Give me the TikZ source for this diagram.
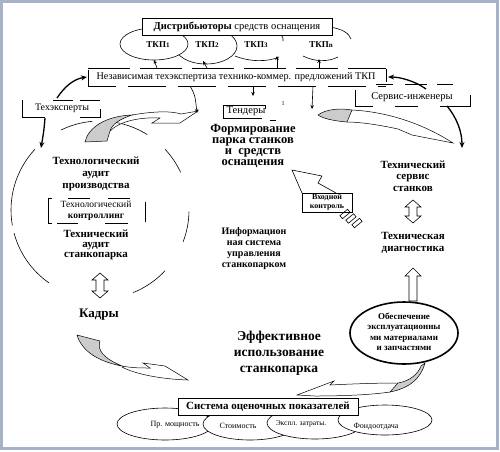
\documentclass[tikz,border=0pt]{standalone}
\usepackage{fontspec}
\setmainfont{Liberation Serif}
\usetikzlibrary{arrows.meta}
\newcommand\fz[2]{\fontsize{#1}{#2}\selectfont}
\newcommand\vdarr[3]{\draw[hollow] (#1-8,#2+7) -- (#1,#2) -- (#1+8,#2+7) -- (#1+4,#2+7) -- (#1+4,#3-7) -- (#1+8,#3-7) -- (#1,#3) -- (#1-8,#3-7) -- (#1-4,#3-7) -- (#1-4,#2+7) -- cycle;}
\newcommand\carc[2]{\draw[ln] (cc) ++(-#1:89) arc[start angle=-#1, end angle=-#2, radius=89];}
\begin{document}
\begin{tikzpicture}[x=1pt,y=-1pt,
  lbl/.style={inner sep=0pt, align=center},
  thickarr/.style={line width=1.3pt, -{Stealth[length=6pt,width=5pt]}},
  thinarr/.style={line width=0.6pt, -{Stealth[length=4pt,width=3.5pt]}},
  ln/.style={line width=0.6pt},
  gblade/.style={draw, line width=0.5pt, fill=gray!40},
  wbody/.style={draw, line width=0.5pt, fill=white},
  hollow/.style={draw, line width=0.6pt, fill=white}]
\useasboundingbox (0,0) rectangle (500,451);
\draw[color={rgb,255:red,165;green,178;blue,200}, line width=2.5pt] (1.5,1.5) rectangle (497.5,448.5);

% ---- top: TKP ellipses and distributors
\draw[ln, fill=white] (206,46) ellipse [x radius=31, y radius=18];
\draw[ln, fill=white] (154,44) ellipse [x radius=34, y radius=16];
\draw[ln] (235,56) .. controls (250,62) and (268,62) .. (279,57);
\draw[ln] (330,27) .. controls (342,29) and (349,33) .. (351,39);
\draw[ln] (303,56) .. controls (315,62) and (328,62) .. (338,57);
\node[lbl, draw, fill=white, minimum width=190pt, minimum height=17pt, line width=0.7pt, font=\fz{10.5}{12}] (dist) at (237,26.5) {\textbf{Дистрибьюторы} средств оснащения};
\draw[ln] (281,35) .. controls (283,37) .. (283,41);
\node[lbl, font=\fz{9}{10}\bfseries] (t1) at (158,45) {ТКП{\fz{7}{7}1}};
\node[lbl, font=\fz{9}{10}\bfseries] (t2) at (207,45) {ТКП{\fz{7}{7}2}};
\node[lbl, font=\fz{9}{10}\bfseries] (t3) at (256,45) {ТКП{\fz{7}{7}3}};
\node[lbl, font=\fz{9}{10}\bfseries] (tn) at (321,45) {ТКП{\fz{7}{7}n}};

% ---- independent expertise
\node[lbl, font=\fz{10.2}{12}] (ind) at (236,77) {Независимая техэкспертиза технико-коммер. предложений ТКП};
\draw[ln, dash pattern=on 42pt off 10pt] (88,68.5) -- (386,68.5);
\draw[ln, dash pattern=on 38pt off 12pt, dash phase=10pt] (88,86) -- (386,86);
\draw[ln] (88,70) -- (88,86);
\draw[ln] (386,68.5) -- (386,82);
\coordinate (u1) at (157,68); \coordinate (u2) at (207,68); \coordinate (u3) at (277,68); \coordinate (u4) at (319,68);
\draw[thinarr] (u1) -- (154,60);
\draw[thinarr] (u2) -- (203,61);
\draw[thinarr] (u3) -- (277,56);
\draw[thinarr] (u4) -- (319,59);

% ---- experts / service engineers
\node[lbl, font=\fz{10}{12}] (tech) at (62,108.5) {Техэксперты};
\draw[ln] (22,100) -- (22,117) -- (45,117);
\draw[ln] (53,100) -- (73,100);
\draw[ln] (80,100) -- (100,100);
\draw[ln] (100,109) -- (100,117) -- (80,117);
\node[lbl, font=\fz{10.5}{12}] (serv) at (412,97.5) {Сервис-инженеры};
\draw[ln] (355,90) -- (355,106) -- (373,106);
\draw[ln] (395,106) -- (418,106);
\draw[ln] (440,106) -- (470,106) -- (470,95);
\draw[ln] (376,84) -- (393,84);
\draw[ln] (405,84) -- (427,84);
\draw[ln] (437,84) -- (453,84);
\coordinate (indL) at (87,77); \coordinate (indR) at (388,77);
\draw[thickarr] (57,98) .. controls (65,86) and (74,79) .. (indL);
\draw[thickarr] (426,89) .. controls (415,81) and (400,77) .. (indR);
\draw[thickarr] (447,106) .. controls (457,118) and (462,132) .. (462,148);
\draw[thickarr] (45,118) .. controls (44,130) .. (41,148);
\draw[thinarr] (190,86) .. controls (195,95) .. (197,113);
\draw[thinarr] (253,86) -- (253,96);
\draw[thinarr] (313,86) -- (312,109);

% ---- tenders / formation
\node[lbl, font=\fz{10.5}{12}] (tend) at (246,111.5) {Тендеры};
\draw[ln] (265,109) -- (265,105) -- (223,105) -- (223,118) -- (262,118);
\draw[ln] (270,120) -- (276,120);
\node[lbl, font=\fz{6}{6}] (sup1) at (283,104) {1};
\node[lbl, font=\fz{12.5}{11.3}\bfseries] (form) at (253,146) {Формирование\\парка станков\\и~~средств\\оснащения};

% ---- left dashed circle
\coordinate (cc) at (100,210);
\carc{95}{116}
\carc{58}{79}
\carc{25}{43}
\carc{-1}{-21}
\carc{-43}{-68}
\carc{-125}{-165}
\carc{137}{190}

% gray arrow A
\draw[wbody] (132,115) .. controls (155,111) and (172,111) .. (181,114) -- (198,111) -- (180,123) -- (152,123) -- (160,118) .. controls (140,117) and (120,121) .. (110,131);
\draw[gblade] (85,142) .. controls (88,128) and (105,116) .. (132,115) .. controls (120,119) and (112,124) .. (110,131) -- (107,141) -- cycle;

\node[lbl, font=\fz{11}{12}\bfseries] (tap) at (96,174) {Технологический\\аудит\\производства};
\node[lbl, font=\fz{9.5}{10.5}] (ctrl) at (96,211) {Технологический\\\textbf{контроллинг}};
\draw[ln] (52,198) -- (48,198) -- (48,223) -- (52,223);
\draw[ln] (68,198) -- (90,198);
\draw[ln] (108,198) -- (130,198);
\draw[ln] (57,223) -- (78,223);
\draw[ln] (105,223) -- (128,223);
\draw[ln] (145,202) -- (145,222);
\node[lbl, font=\fz{11}{10}\bfseries] (taud) at (96,245) {Технический\\аудит\\станкопарка};
\vdarr{100}{273}{298}
\node[lbl, font=\fz{13}{14}\bfseries] (kadr) at (99,315) {Кадры};

% gray arrow C
\draw[wbody] (122,366) .. controls (132,368) and (142,368) .. (150,368) -- (143,363) -- (165,366) -- (188,380) .. controls (160,379) and (135,374) .. (122,367);
\draw[gblade] (77,335) -- (100,341) .. controls (97,350) and (103,358) .. (122,366) .. controls (100,362) and (82,352) .. (77,335) -- cycle;

% ---- center
\node[lbl, font=\fz{10}{11}\bfseries] (info) at (254,249) {Информацион\\ная система\\управления\\станкопарком};
\node[lbl, font=\fz{13.5}{16}\bfseries] (eff) at (279,353) {Эффективное\\использование\\станкопарка};

% incoming control arrow
\draw[hollow] (302,193) -- (292,170) -- (322,176) -- (318,183) -- (336,193);
\node[lbl, draw, fill=white, ln, minimum width=50pt, minimum height=19pt, font=\fz{8}{9}\bfseries] (vk) at (327,202.5) {Входной\\контроль};
\foreach \i in {0,1,2} \draw[ln, shift={(345+6*\i,214+4.5*\i)}, rotate=-50] (-2,-5) rectangle (2,5);

% ---- right
% gray arrow B
\draw[wbody] (352,110) .. controls (390,112) and (425,125) .. (453,143) -- (412,135) -- (398,129) .. controls (380,125) and (360,122) .. (347,122);
\draw[gblade] (318,115) .. controls (326,109) and (340,108) .. (352,110) -- (347,122) .. controls (335,121) and (324,119) .. (318,115) -- cycle;

\node[lbl, font=\fz{11}{11.5}\bfseries] (tserv) at (413,176) {Технический\\сервис\\станков};
\vdarr{413}{200}{223}
\node[lbl, font=\fz{11}{12}\bfseries] (tdiag) at (413,243) {Техническая\\диагностика};
\draw[hollow] (405,276) -- (413,268) -- (421,276) -- (417,276) -- (417,301) -- (409,301) -- (409,276) -- cycle;
\draw[line width=1.6pt, fill=white] (404,333) ellipse [x radius=54, y radius=31];
\node[lbl, font=\fz{9}{10.4}\bfseries] (obesp) at (404,332) {Обеспечение\\эксплуатационны\\ми материалами\\и запчастями};

% gray arrow D
\draw[wbody] (398,383) .. controls (375,383) and (350,384) .. (330,385) -- (334,381) -- (297,395) -- (315,396) .. controls (340,396) and (370,395) .. (390,392);
\draw[gblade] (425,363) .. controls (421,378) and (410,388) .. (390,392) -- (398,383) .. controls (410,381) and (418,374) .. (421,366) -- cycle;

% ---- bottom indicators
\draw[ln, fill=white] (165,424) ellipse [x radius=48, y radius=16];
\draw[ln, fill=white] (250,424) ellipse [x radius=47, y radius=16];
\draw[ln, fill=white] (315,423) ellipse [x radius=48, y radius=16];
\draw[ln, fill=white] (385,420) ellipse [x radius=47, y radius=15];
\node[lbl, font=\fz{8}{9}] (p1) at (175,425) {Пр. мощность};
\node[lbl, font=\fz{8}{9}] (p2) at (238,426) {Стоимость};
\node[lbl, font=\fz{7.5}{9}] (p3) at (301,424) {Экспл. затраты.};
\node[lbl, font=\fz{8}{9}] (p4) at (376,427) {Фондоотдача};
\node[lbl, draw, fill=white, line width=0.8pt, minimum width=180pt, minimum height=17pt, font=\fz{11}{12}\bfseries] (sys) at (268,406.5) {Система оценочных показателей};
\end{tikzpicture}
\end{document}
